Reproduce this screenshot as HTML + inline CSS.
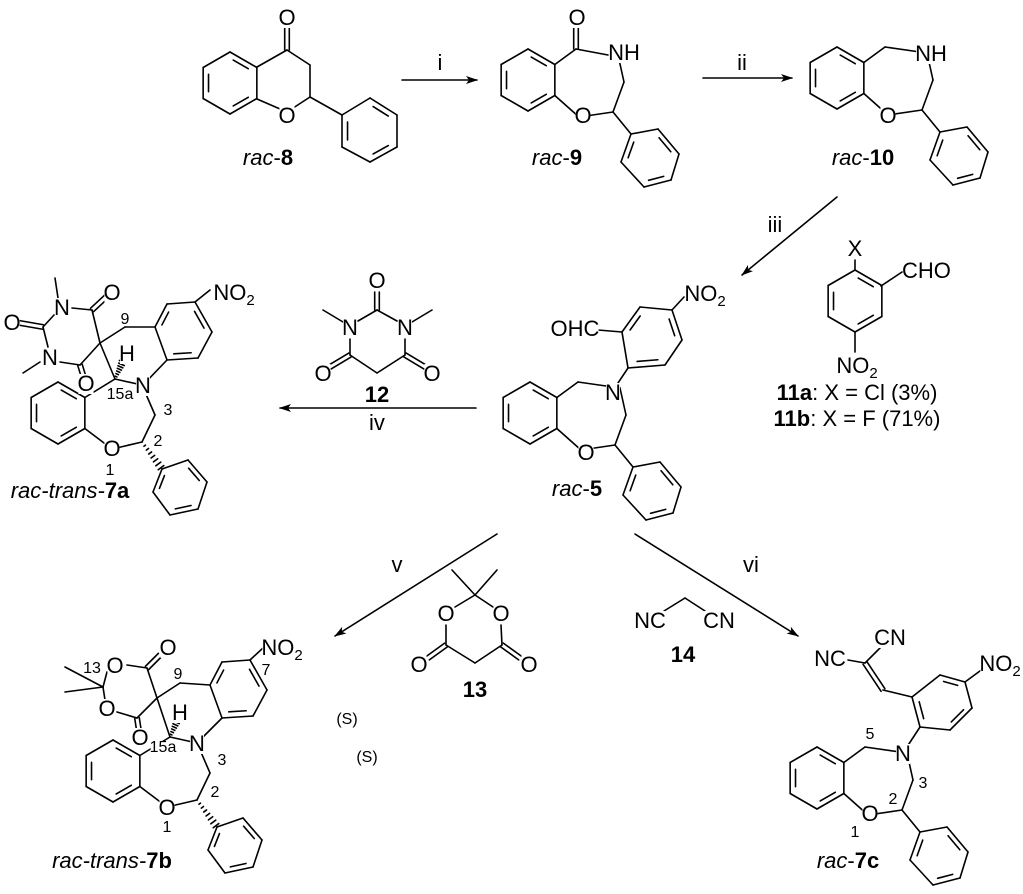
<!DOCTYPE html>
<html><head><meta charset="utf-8"><style>
html,body{margin:0;padding:0;background:#fff;}
svg{display:block;}
text{font-family:"Liberation Sans",sans-serif;font-size:22px;fill:#000;}
text.s{font-size:16px;}
</style></head><body>
<svg id="svg" width="1023" height="894" viewBox="0 0 1023 894" xmlns="http://www.w3.org/2000/svg">
<defs><marker id="ah" viewBox="0 0 12 8" refX="11" refY="4" markerWidth="12" markerHeight="8" markerUnits="userSpaceOnUse" orient="auto"><path d="M0,0 L12,4 L0,8 L3,4 z" fill="#000"/></marker></defs>
<g id="g" stroke="#000" stroke-width="1.6" fill="none" stroke-linecap="round"></g>
<g id="bg" fill="#fff"></g>
<g id="t">
<text x="287" y="25" text-anchor="middle">O</text>
<text x="287" y="123" text-anchor="middle">O</text>
<text class="lab" x="268" y="165" text-anchor="middle"><tspan font-style="italic">rac</tspan>-<tspan font-weight="bold">8</tspan></text>
<text class="lab" x="440" y="70" text-anchor="middle">i</text>
<text class="lab" x="742" y="70" text-anchor="middle">ii</text>
<text class="lab" x="775" y="232" text-anchor="middle">iii</text>
<text class="lab" x="377" y="430" text-anchor="middle">iv</text>
<text class="lab" x="397" y="572" text-anchor="middle">v</text>
<text class="lab" x="751" y="572" text-anchor="middle">vi</text>
<text x="577" y="25" text-anchor="middle">O</text>
<text x="624" y="60" text-anchor="middle">NH</text>
<text x="583" y="123" text-anchor="middle">O</text>
<text class="lab" x="557" y="165" text-anchor="middle"><tspan font-style="italic">rac</tspan>-<tspan font-weight="bold">9</tspan></text>
<text x="931" y="61" text-anchor="middle">NH</text>
<text x="888" y="123" text-anchor="middle">O</text>
<text class="lab" x="863" y="165" text-anchor="middle"><tspan font-style="italic">rac</tspan>-<tspan font-weight="bold">10</tspan></text>
<text x="855" y="256" text-anchor="middle">X</text>
<text x="902" y="278">CHO</text>
<text x="857" y="373" text-anchor="middle">NO<tspan font-size="15" dy="5">2</tspan></text>
<text class="lab" x="857" y="400" text-anchor="middle"><tspan font-weight="bold">11a</tspan>: X = Cl (3%)</text>
<text class="lab" x="857" y="426" text-anchor="middle"><tspan font-weight="bold">11b</tspan>: X = F (71%)</text>
<text x="575" y="336" text-anchor="middle">OHC</text>
<text x="705" y="301" text-anchor="middle">NO<tspan font-size="15" dy="5">2</tspan></text>
<text x="613" y="400" text-anchor="middle">N</text>
<text x="586" y="460" text-anchor="middle">O</text>
<text class="lab" x="577" y="496" text-anchor="middle"><tspan font-style="italic">rac</tspan>-<tspan font-weight="bold">5</tspan></text>
<text x="377" y="288" text-anchor="middle">O</text>
<text x="350" y="335" text-anchor="middle">N</text>
<text x="405" y="335" text-anchor="middle">N</text>
<text x="323" y="381" text-anchor="middle">O</text>
<text x="432" y="381" text-anchor="middle">O</text>
<text class="lab" x="377" y="402" text-anchor="middle" font-weight="bold">12</text>
<text x="112" y="300" text-anchor="middle">O</text>
<text x="62" y="315" text-anchor="middle">N</text>
<text x="12" y="330" text-anchor="middle">O</text>
<text x="50" y="365" text-anchor="middle">N</text>
<text x="86" y="391" text-anchor="middle">O</text>
<text x="127" y="361" text-anchor="middle">H</text>
<text x="143" y="393" text-anchor="middle">N</text>
<text x="112" y="456" text-anchor="middle">O</text>
<text x="234" y="300" text-anchor="middle">NO<tspan font-size="15" dy="5">2</tspan></text>
<text class="s" x="125" y="324" text-anchor="middle">9</text>
<text class="s" x="120" y="399" text-anchor="middle">15a</text>
<text class="s" x="168" y="415" text-anchor="middle">3</text>
<text class="s" x="158" y="446" text-anchor="middle">2</text>
<text class="s" x="110" y="475" text-anchor="middle">1</text>
<text class="lab" x="70" y="498" text-anchor="middle" font-style="italic">rac-trans-<tspan font-style="normal" font-weight="bold">7a</tspan></text>
<text x="446" y="621" text-anchor="middle">O</text>
<text x="501" y="621" text-anchor="middle">O</text>
<text x="419" y="672" text-anchor="middle">O</text>
<text x="529" y="672" text-anchor="middle">O</text>
<text class="lab" x="475" y="697" text-anchor="middle" font-weight="bold">13</text>
<text x="650" y="628" text-anchor="middle">NC</text>
<text x="719" y="628" text-anchor="middle">CN</text>
<text class="lab" x="683" y="662" text-anchor="middle" font-weight="bold">14</text>
<text class="s lab" x="347" y="724" text-anchor="middle" font-size="14">(S)</text>
<text class="s lab" x="367" y="762" text-anchor="middle" font-size="14">(S)</text>
<text x="168" y="655" text-anchor="middle">O</text>
<text x="115" y="673" text-anchor="middle">O</text>
<text x="107" y="716" text-anchor="middle">O</text>
<text x="140" y="745" text-anchor="middle">O</text>
<text class="s" x="92" y="673" text-anchor="middle">13</text>
<text class="s" x="178" y="679" text-anchor="middle">9</text>
<text x="180" y="720" text-anchor="middle">H</text>
<text x="197" y="751" text-anchor="middle">N</text>
<text x="167" y="815" text-anchor="middle">O</text>
<text x="282" y="655" text-anchor="middle">NO<tspan font-size="15" dy="5">2</tspan></text>
<text class="s" x="266" y="675" text-anchor="middle">7</text>
<text class="s" x="163" y="752" text-anchor="middle">15a</text>
<text class="s" x="222" y="765" text-anchor="middle">3</text>
<text class="s" x="215" y="797" text-anchor="middle">2</text>
<text class="s" x="167" y="832" text-anchor="middle">1</text>
<text class="lab" x="112" y="868" text-anchor="middle" font-style="italic">rac-trans-<tspan font-style="normal" font-weight="bold">7b</tspan></text>
<text x="830" y="666" text-anchor="middle">NC</text>
<text x="890" y="645" text-anchor="middle">CN</text>
<text x="1000" y="671" text-anchor="middle">NO<tspan font-size="15" dy="5">2</tspan></text>
<text x="903" y="761" text-anchor="middle">N</text>
<text x="870" y="821" text-anchor="middle">O</text>
<text class="s" x="870" y="739" text-anchor="middle">5</text>
<text class="s" x="923" y="788" text-anchor="middle">3</text>
<text class="s" x="893" y="804" text-anchor="middle">2</text>
<text class="s" x="855" y="837" text-anchor="middle">1</text>
<text class="lab" x="848" y="868" text-anchor="middle"><tspan font-style="italic">rac</tspan>-<tspan font-weight="bold">7c</tspan></text>
</g>
</svg>
<script>
var g=document.getElementById('g'),NS='http://www.w3.org/2000/svg';
function L(a,b,c,d,extra){var e=document.createElementNS(NS,'line');e.setAttribute('x1',a);e.setAttribute('y1',b);e.setAttribute('x2',c);e.setAttribute('y2',d);if(extra)e.setAttribute('marker-end','url(#ah)');g.appendChild(e);}
function D(a,b,c,d){var dx=c-a,dy=d-b,l=Math.hypot(dx,dy),nx=-dy/l*2.3,ny=dx/l*2.3;L(a+nx,b+ny,c+nx,d+ny);L(a-nx,b-ny,c-nx,d-ny);}
function ring(p,dbl){var cx=0,cy=0;p.forEach(function(q){cx+=q[0];cy+=q[1];});cx/=p.length;cy/=p.length;
for(var i=0;i<p.length;i++){var a=p[i],b=p[(i+1)%p.length];L(a[0],a[1],b[0],b[1]);
if(dbl.indexOf(i)>=0){var f=0.8,sh=0.15;var a2=[cx+(a[0]-cx)*f,cy+(a[1]-cy)*f],b2=[cx+(b[0]-cx)*f,cy+(b[1]-cy)*f];
var x1=a2[0]+(b2[0]-a2[0])*sh,y1=a2[1]+(b2[1]-a2[1])*sh,x2=b2[0]-(b2[0]-a2[0])*sh,y2=b2[1]-(b2[1]-a2[1])*sh;L(x1,y1,x2,y2);}}}
function hex(cx,cy,r,dbl){var p=[];for(var i=0;i<6;i++){var an=(-90+60*i)*Math.PI/180;p.push([cx+r*Math.cos(an),cy+r*Math.sin(an)]);}ring(p,dbl);return p;}
function H(a,b,c,d){var n=7,dx=c-a,dy=d-b,l=Math.hypot(dx,dy),nx=-dy/l,ny=dx/l;for(var i=1;i<=n;i++){var t=i/n,w=0.5+3*t;var x=a+dx*t*0.95,y=b+dy*t*0.95;L(x-nx*w,y-ny*w,x+nx*w,y+ny*w);}}
function off(pts,cx,cy){return pts.map(function(q){return [q[0]+cx,q[1]+cy];});}
var T={a:[48,-31],n:[90,-25],c3:[96,2],c2:[85,32],o:[51,37],ph:[[103,54],[130,49],[151,74],[143,100],[116,107],[93,82]]};
var TR={a:[57,-34],n:[84,-28],c3:[97,2],c2:[84,29],o:[54,36],ph:[[104,56],[130,47],[149,69],[140,96],[112,102],[95,79]],trans:1};
function core(cx,cy,R,noA){var b=hex(cx,cy,31,[0,2,4]);var P=function(k){return [cx+R[k][0],cy+R[k][1]];};
var a=P('a'),n=P('n'),c3=P('c3'),c2=P('c2'),o=P('o');
L(b[1][0],b[1][1],a[0],a[1]);if(!noA)L(a[0],a[1],n[0],n[1]);L(n[0],n[1],c3[0],c3[1]);L(c3[0],c3[1],c2[0],c2[1]);L(c2[0],c2[1],o[0],o[1]);L(o[0],o[1],b[2][0],b[2][1]);
var ph=off(R.ph,cx,cy);ring(ph,[1,3,5]);
if(R.trans){H(c2[0],c2[1],ph[0][0],ph[0][1]);H(a[0],a[1],cx+65,cy-52);}else L(c2[0],c2[1],ph[0][0],ph[0][1]);}
hex(230,83,31,[0,2,4]);
L(257,67,287,50);D(287,50,287,26);L(287,50,310,65);L(310,65,310,97);L(310,97,287,112);L(287,112,257,99);L(310,97,342,115);
ring([[342,115],[370,98],[397,115],[397,147],[370,162],[342,147]],[1,3,5]);
L(402,80,477,80,1);L(703,78,792,78,1);L(837,197,742,275,1);L(476,408,280,408,1);L(497,534,335,636,1);L(635,534,798,636,1);
core(528,80,T,1);L(576,49,608,55);D(576,49,576,25);
core(837,78,T);
hex(855,301,31,[0,2,4]);L(855,270,855,260);L(881,286,902,272);L(855,332,855,352);
core(530,413,T);
ring([[628,368],[622,332],[640,307],[672,310],[682,340],[665,365]],[1,3,5]);
L(612,392,628,368);L(622,332,598,330);L(672,310,684,297);
D(377,310,377,292);L(377,310,358,321);L(377,310,397,321);L(343,322,323,310);L(412,322,432,310);
L(350,339,350,355);L(405,339,405,355);L(350,355,377,373);L(405,355,377,373);D(350,355,330,367);D(405,355,425,367);
core(58,413,TR);
ring([[155,327],[167,304],[195,302],[212,332],[198,358],[167,360]],[0,2,4]);
L(143,385,167,360);L(125,327,155,327);L(100,343,125,327);L(100,343,115,379);L(195,302,210,290);
L(100,343,92,310);D(92,310,106,297);L(92,310,72,308);L(58,298,55,278);L(54,315,43,327);D(43,327,20,323);L(43,327,48,347);L(40,362,23,373);L(60,362,80,365);D(80,365,84,378);L(80,365,100,343);
L(475,595,452,570);L(475,595,497,570);L(475,595,455,607);L(475,595,493,607);L(446,625,446,645);L(501,625,502,645);L(446,645,475,663);L(502,645,475,663);D(446,645,428,658);D(502,645,520,658);
L(664,611,685,598);L(685,598,705,611);
core(113,771,TR);
ring([[210,685],[222,662],[250,660],[267,690],[253,716],[222,718]],[0,2,4]);
L(197,743,222,718);L(180,683,210,685);L(157,698,180,683);L(157,698,170,737);L(250,660,263,648);
L(157,698,147,668);D(147,668,160,655);L(147,668,127,665);L(103,687,107,672);L(103,687,65,667);L(103,687,65,692);L(103,687,105,700);L(117,712,137,718);D(137,718,139,731);L(137,718,157,698);
core(817,778,T);
ring([[920,727],[912,697],[940,675],[965,682],[972,708],[950,730]],[0,2,4]);
L(903,753,920,727);L(912,697,883,690);D(883,690,865,663);L(865,663,848,660);L(865,663,880,648);L(965,682,984,668);
// white backgrounds behind atom labels
var bg=document.getElementById('bg');
Array.prototype.forEach.call(document.querySelectorAll('#t text'),function(t){if(t.classList.contains('lab'))return;var b=t.getBBox();var r=document.createElementNS(NS,'rect');r.setAttribute('x',b.x+1);r.setAttribute('y',b.y+3);r.setAttribute('width',Math.max(0,b.width-2));r.setAttribute('height',Math.max(0,b.height-5));bg.appendChild(r);});
</script>
</body></html>
